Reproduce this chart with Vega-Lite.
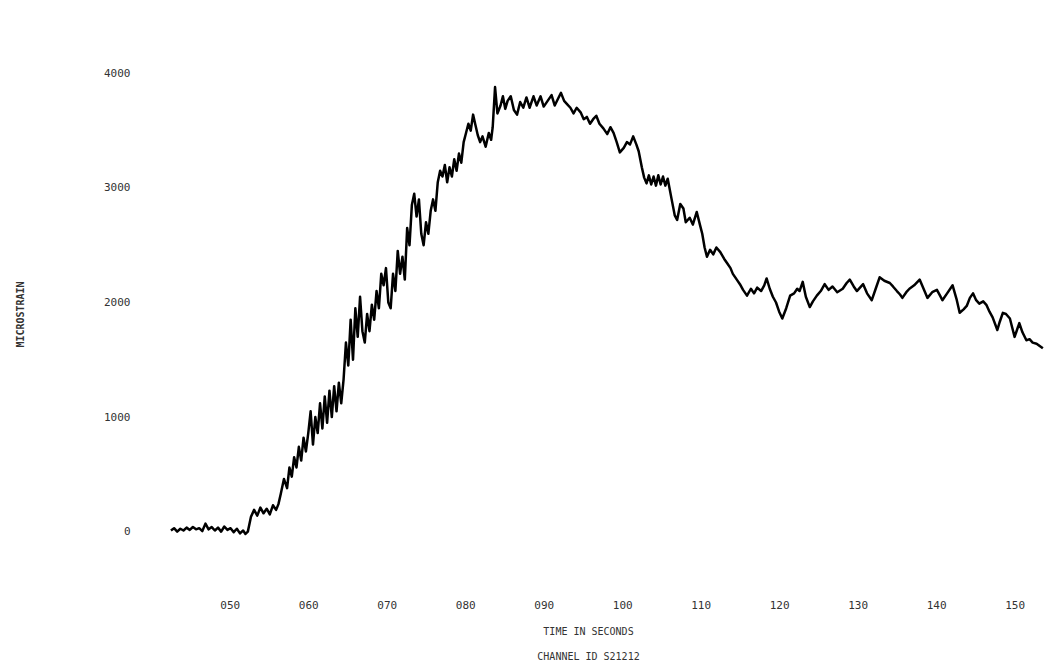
{
  "$schema": "https://vega.github.io/schema/vega-lite/v6.json",
  "width": 879,
  "height": 527,
  "autosize": "none",
  "padding": {"left": 167, "top": 39, "right": 4, "bottom": 100},
  "background": "white",
  "config": {"view": {"stroke": null}, "font": "DejaVu Sans Mono"},
  "data": {"values": [
    {"t":42.5,"v":10},{"t":42.9,"v":30},{"t":43.3,"v":0},{"t":43.7,"v":25},{"t":44.1,"v":10},{"t":44.5,"v":35},{"t":44.9,"v":15},{"t":45.3,"v":40},{"t":45.7,"v":20},{"t":46.1,"v":30},{"t":46.5,"v":5},{"t":46.9,"v":70},{"t":47.3,"v":20},{"t":47.7,"v":40},{"t":48.1,"v":10},{"t":48.5,"v":35},{"t":48.9,"v":0},{"t":49.3,"v":45},{"t":49.7,"v":15},{"t":50.1,"v":30},{"t":50.5,"v":-5},{"t":50.9,"v":25},{"t":51.3,"v":-15},{"t":51.7,"v":10},{"t":52.0,"v":-20},{"t":52.3,"v":0},
    {"t":52.7,"v":130},{"t":53.1,"v":190},{"t":53.5,"v":140},{"t":53.9,"v":210},{"t":54.3,"v":160},{"t":54.7,"v":200},{"t":55.1,"v":150},{"t":55.5,"v":230},{"t":55.9,"v":190},{"t":56.2,"v":240},{"t":56.5,"v":330},{"t":56.9,"v":460},{"t":57.3,"v":380},{"t":57.6,"v":560},{"t":57.9,"v":480},{"t":58.2,"v":650},{"t":58.5,"v":560},{"t":58.8,"v":740},{"t":59.1,"v":620},{"t":59.4,"v":820},{"t":59.7,"v":700},{"t":60.0,"v":860},{"t":60.3,"v":1050},{"t":60.6,"v":760},{"t":60.9,"v":1000},{"t":61.2,"v":860},{"t":61.5,"v":1120},{"t":61.8,"v":900},{"t":62.1,"v":1180},{"t":62.4,"v":950},{"t":62.7,"v":1230},{"t":63.0,"v":1000},{"t":63.3,"v":1270},{"t":63.6,"v":1050},{"t":63.9,"v":1300},{"t":64.2,"v":1120},{"t":64.5,"v":1330},
    {"t":64.8,"v":1650},{"t":65.1,"v":1450},{"t":65.4,"v":1850},{"t":65.7,"v":1500},{"t":66.0,"v":1950},{"t":66.3,"v":1700},{"t":66.6,"v":2050},{"t":66.9,"v":1750},{"t":67.2,"v":1650},{"t":67.5,"v":1900},{"t":67.8,"v":1750},{"t":68.1,"v":1980},{"t":68.4,"v":1850},{"t":68.7,"v":2100},{"t":69.0,"v":1950},{"t":69.3,"v":2250},{"t":69.6,"v":2150},{"t":69.9,"v":2300},{"t":70.2,"v":2000},{"t":70.5,"v":1950},{"t":70.8,"v":2250},{"t":71.1,"v":2100},{"t":71.4,"v":2450},{"t":71.7,"v":2250},{"t":72.0,"v":2400},{"t":72.3,"v":2200},{"t":72.6,"v":2650},{"t":72.9,"v":2500},{"t":73.2,"v":2850},{"t":73.5,"v":2950},{"t":73.8,"v":2750},{"t":74.1,"v":2900},{"t":74.4,"v":2600},{"t":74.7,"v":2500},{"t":75.0,"v":2700},{"t":75.3,"v":2600},{"t":75.6,"v":2800},{"t":75.9,"v":2900},{"t":76.2,"v":2800},{"t":76.5,"v":3050},{"t":76.8,"v":3150},{"t":77.1,"v":3100},{"t":77.4,"v":3200},{"t":77.7,"v":3050},{"t":78.0,"v":3180},{"t":78.3,"v":3100},{"t":78.6,"v":3250},{"t":78.9,"v":3150},{"t":79.2,"v":3300},{"t":79.5,"v":3220},{"t":79.8,"v":3400},
    {"t":80.1,"v":3480},{"t":80.4,"v":3560},{"t":80.7,"v":3500},{"t":81.0,"v":3640},{"t":81.3,"v":3550},{"t":81.6,"v":3460},{"t":81.9,"v":3400},{"t":82.2,"v":3450},{"t":82.6,"v":3360},{"t":83.0,"v":3480},{"t":83.3,"v":3420},{"t":83.5,"v":3530},{"t":83.8,"v":3880},{"t":84.1,"v":3650},{"t":84.5,"v":3720},{"t":84.8,"v":3800},{"t":85.1,"v":3690},{"t":85.4,"v":3760},{"t":85.8,"v":3800},{"t":86.2,"v":3680},{"t":86.6,"v":3640},{"t":87.0,"v":3750},{"t":87.4,"v":3700},{"t":87.8,"v":3790},{"t":88.2,"v":3700},{"t":88.7,"v":3800},{"t":89.1,"v":3720},{"t":89.6,"v":3800},{"t":90.0,"v":3710},{"t":90.5,"v":3760},{"t":91.0,"v":3810},{"t":91.4,"v":3720},{"t":91.9,"v":3790},{"t":92.2,"v":3830},{"t":92.6,"v":3760},{"t":93.0,"v":3730},{"t":93.4,"v":3700},{"t":93.8,"v":3650},{"t":94.2,"v":3700},{"t":94.7,"v":3660},{"t":95.1,"v":3600},{"t":95.5,"v":3620},{"t":95.9,"v":3560},{"t":96.3,"v":3600},{"t":96.7,"v":3630},{"t":97.1,"v":3560},{"t":97.6,"v":3520},{"t":98.1,"v":3470},{"t":98.5,"v":3530},{"t":98.9,"v":3480},{"t":99.3,"v":3400},{"t":99.7,"v":3310},{"t":100.2,"v":3350},{"t":100.6,"v":3400},{"t":101.0,"v":3380},{"t":101.4,"v":3450},{"t":101.8,"v":3380},{"t":102.1,"v":3320},{"t":102.5,"v":3180},{"t":102.8,"v":3090},{"t":103.1,"v":3040},{"t":103.4,"v":3110},{"t":103.7,"v":3030},{"t":104.0,"v":3100},{"t":104.3,"v":3020},{"t":104.6,"v":3110},{"t":104.9,"v":3030},{"t":105.2,"v":3100},{"t":105.5,"v":3020},{"t":105.8,"v":3080},
    {"t":106.3,"v":2900},{"t":106.7,"v":2760},{"t":107.0,"v":2720},{"t":107.4,"v":2860},{"t":107.8,"v":2820},{"t":108.1,"v":2700},{"t":108.6,"v":2740},{"t":109.0,"v":2680},{"t":109.5,"v":2790},{"t":109.9,"v":2680},{"t":110.2,"v":2600},{"t":110.5,"v":2480},{"t":110.8,"v":2400},{"t":111.2,"v":2460},{"t":111.6,"v":2420},{"t":112.0,"v":2480},{"t":112.5,"v":2440},{"t":113.0,"v":2380},{"t":113.4,"v":2340},{"t":113.8,"v":2300},{"t":114.1,"v":2250},{"t":114.6,"v":2200},{"t":115.0,"v":2160},{"t":115.4,"v":2110},{"t":115.9,"v":2060},{"t":116.4,"v":2120},{"t":116.8,"v":2080},{"t":117.2,"v":2130},{"t":117.7,"v":2100},{"t":118.1,"v":2150},{"t":118.4,"v":2210},{"t":118.8,"v":2120},{"t":119.2,"v":2050},{"t":119.6,"v":2000},{"t":120.0,"v":1920},{"t":120.4,"v":1860},{"t":120.9,"v":1950},{"t":121.4,"v":2060},{"t":121.9,"v":2080},{"t":122.3,"v":2120},{"t":122.6,"v":2100},{"t":123.0,"v":2180},{"t":123.4,"v":2050},{"t":123.9,"v":1960},{"t":124.3,"v":2010},{"t":124.8,"v":2060},{"t":125.3,"v":2100},{"t":125.8,"v":2160},{"t":126.3,"v":2110},{"t":126.8,"v":2140},{"t":127.4,"v":2090},{"t":128.1,"v":2120},{"t":128.6,"v":2170},{"t":129.0,"v":2200},{"t":129.5,"v":2140},{"t":129.9,"v":2100},{"t":130.3,"v":2130},{"t":130.7,"v":2160},{"t":131.2,"v":2080},{"t":131.8,"v":2020},{"t":132.3,"v":2120},{"t":132.8,"v":2220},{"t":133.4,"v":2190},{"t":134.1,"v":2170},{"t":134.5,"v":2140},{"t":135.0,"v":2100},{"t":135.4,"v":2070},{"t":135.7,"v":2040},{"t":136.2,"v":2090},{"t":136.6,"v":2120},{"t":137.2,"v":2150},{"t":137.9,"v":2200},{"t":138.4,"v":2120},{"t":138.9,"v":2040},{"t":139.5,"v":2090},{"t":140.1,"v":2110},{"t":140.5,"v":2060},{"t":140.8,"v":2020},{"t":141.4,"v":2080},{"t":142.1,"v":2150},{"t":142.6,"v":2030},{"t":143.0,"v":1910},{"t":143.5,"v":1940},{"t":143.9,"v":1970},{"t":144.3,"v":2040},{"t":144.7,"v":2080},{"t":145.1,"v":2020},{"t":145.5,"v":1990},{"t":146.0,"v":2010},{"t":146.4,"v":1980},{"t":146.8,"v":1920},{"t":147.2,"v":1870},{"t":147.8,"v":1760},{"t":148.1,"v":1830},{"t":148.5,"v":1910},{"t":148.9,"v":1900},{"t":149.4,"v":1860},{"t":149.7,"v":1780},{"t":150.0,"v":1700},{"t":150.3,"v":1760},{"t":150.6,"v":1820},{"t":151.0,"v":1740},{"t":151.5,"v":1670},{"t":151.9,"v":1680},{"t":152.3,"v":1650},{"t":152.8,"v":1640},{"t":153.2,"v":1620},{"t":153.6,"v":1600}
  ]},
  "mark": {"type": "line", "color": "black", "strokeWidth": 2.5, "strokeJoin": "round"},
  "encoding": {
    "x": {
      "field": "t", "type": "quantitative",
      "scale": {"domain": [42, 154], "nice": false, "zero": false},
      "axis": {
        "values": [50, 60, 70, 80, 90, 100, 110, 120, 130, 140, 150],
        "format": "03d",
        "domain": false, "ticks": false, "tickSize": 0, "grid": false,
        "labelPadding": 33, "labelFont": "DejaVu Sans Mono", "labelFontSize": 11, "labelColor": "#333",
        "title": ["TIME IN SECONDS", "CHANNEL ID S21212"],
        "titleFont": "DejaVu Sans Mono", "titleFontSize": 10, "titleFontWeight": "normal", "titleColor": "#333",
        "titleLineHeight": 25, "titleBaseline": "top", "titleX": 421, "titleY": 60, "titleAlign": "center"
      }
    },
    "y": {
      "field": "v", "type": "quantitative",
      "scale": {"domain": [-300, 4300], "nice": false, "zero": false},
      "axis": {
        "values": [0, 1000, 2000, 3000, 4000],
        "format": "d",
        "domain": false, "ticks": false, "tickSize": 0, "grid": false,
        "labelPadding": 37, "labelFont": "DejaVu Sans Mono", "labelFontSize": 11, "labelColor": "#333",
        "title": "MICROSTRAIN",
        "titleFont": "DejaVu Sans Mono", "titleFontSize": 10, "titleFontWeight": "bold", "titleColor": "#333",
        "titleX": -147, "titleY": 275, "titleAngle": -90, "titleAlign": "center", "titleBaseline": "middle"
      }
    }
  }
}
